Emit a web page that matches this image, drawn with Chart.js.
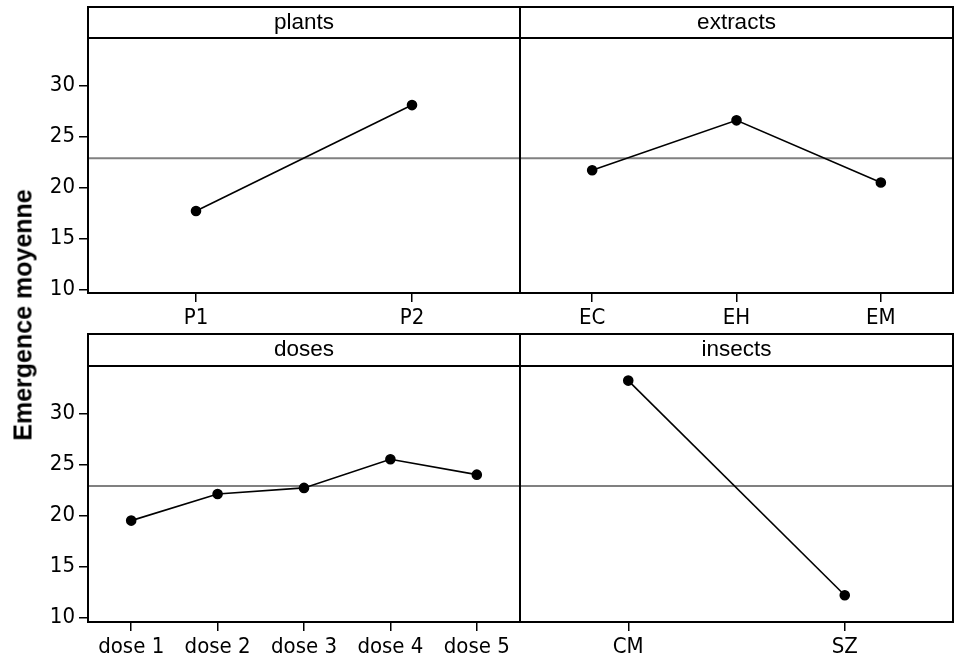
<!DOCTYPE html>
<html>
<head>
<meta charset="utf-8">
<script src="https://cdn.jsdelivr.net/npm/chart.js@4"></script>
<style>
    body { margin: 0; background: #fff; }
    #wrap { position: relative; width: 960px; height: 663px; overflow: hidden; }
    canvas { position: absolute; }
    #ytitle {
        position: absolute; left: 23px; top: 315px;
        transform: translate(-50%, -50%) rotate(-90deg);
        font: bold 25px "Liberation Sans", Arial, sans-serif;
        white-space: nowrap; color: #000;
    }
</style>
</head>
<body>
<div id="wrap">
    <canvas id="plants" width="530" height="331" style="left:0;top:0"></canvas>
    <canvas id="extracts" width="450" height="331" style="left:510px;top:0"></canvas>
    <canvas id="doses" width="530" height="332" style="left:0;top:331px"></canvas>
    <canvas id="insects" width="450" height="332" style="left:510px;top:331px"></canvas>
    <div id="ytitle">Emergence moyenne</div>
</div>
<script>
// Means
const plantLabels = ["P1", "P2"];
const plantMeans = [17.7, 28.1];

const extractLabels = ["EC", "EH", "EM"];
const extractMeans = [21.7, 26.6, 20.5];

const doseLabels = ["dose 1", "dose 2", "dose 3", "dose 4", "dose 5"];
const doseMeans = [19.5, 22.1, 22.7, 25.5, 24.0];

const insectLabels = ["CM", "SZ"];
const insectMeans = [33.2, 12.2];

const yTicks = [10, 15, 20, 25, 30];
const grandMean = 22.88;

const TICK_FONT = { family: "'DejaVu Sans Condensed', 'DejaVu Sans', sans-serif", size: 22 };
const STRIP_FONT = "22.5px 'Liberation Sans', Arial, sans-serif";

// frame, strip with the factor name, and grand mean line
const panelPlugin = {
    id: "panel",
    beforeDatasetsDraw(chart, args, opts) {
        const a = chart.chartArea;
        const ctx = chart.ctx;
        const y = chart.scales.y.getPixelForValue(grandMean);
        ctx.save();
        ctx.strokeStyle = "#808080";
        ctx.lineWidth = 2;
        ctx.beginPath();
        ctx.moveTo(a.left, y);
        ctx.lineTo(a.right, y);
        ctx.stroke();
        ctx.restore();
    },
    afterDraw(chart, args, opts) {
        const a = chart.chartArea;
        const ctx = chart.ctx;
        ctx.save();
        ctx.strokeStyle = "#000";
        ctx.lineWidth = 2;
        ctx.strokeRect(a.left, opts.stripTop, a.right - a.left, a.bottom - opts.stripTop);
        ctx.beginPath();
        ctx.moveTo(a.left, a.top);
        ctx.lineTo(a.right, a.top);
        ctx.stroke();
        ctx.fillStyle = "#000";
        ctx.font = STRIP_FONT;
        ctx.textAlign = "center";
        ctx.textBaseline = "middle";
        ctx.fillText(opts.title, (a.left + a.right) / 2, (opts.stripTop + a.top) / 2);
        ctx.restore();
    }
};

function makePanel(id, title, labels, values, p) {
    new Chart(document.getElementById(id), {
        type: "line",
        data: {
            labels: labels,
            datasets: [{
                data: values,
                borderColor: "#000",
                borderWidth: 1.6,
                pointBackgroundColor: "#000",
                pointBorderColor: "#000",
                pointRadius: 4.5,
                fill: false,
                tension: 0
            }]
        },
        options: {
            responsive: false,
            animation: false,
            layout: { padding: { top: p.top, left: p.left, right: p.right, bottom: 0 } },
            plugins: {
                legend: { display: false },
                tooltip: { enabled: false },
                panel: { title: title, stripTop: p.stripTop }
            },
            scales: {
                x: {
                    type: "category",
                    offset: true,
                    border: { display: false },
                    grid: { drawOnChartArea: false, tickLength: 9, color: "#000", lineWidth: 1.5 },
                    ticks: { color: "#000", font: TICK_FONT, padding: 3, maxRotation: 0, autoSkip: false },
                    afterFit(s) { s.height = p.xHeight; }
                },
                y: {
                    display: p.showY,
                    min: p.min,
                    max: p.max,
                    border: { display: false },
                    grid: { drawOnChartArea: false, tickLength: 9, color: "#000", lineWidth: 1.5 },
                    ticks: { color: "#000", font: TICK_FONT, padding: 4 },
                    afterBuildTicks(s) { s.ticks = yTicks.map(v => ({ value: v })); },
                    afterFit(s) { s.width = p.showY ? 88 : 0; }
                }
            }
        },
        plugins: [panelPlugin]
    });
}

const topRow = { top: 38, stripTop: 7, xHeight: 38, min: 9.64, max: 34.69 };
const bottomRow = { top: 35, stripTop: 3, xHeight: 41, min: 9.58, max: 34.63 };

makePanel("plants", "plants", plantLabels, plantMeans,
    Object.assign({ left: 0, right: 10, showY: true }, topRow));
makePanel("extracts", "extracts", extractLabels, extractMeans,
    Object.assign({ left: 10, right: 7, showY: false }, topRow));
makePanel("doses", "doses", doseLabels, doseMeans,
    Object.assign({ left: 0, right: 10, showY: true }, bottomRow));
makePanel("insects", "insects", insectLabels, insectMeans,
    Object.assign({ left: 10, right: 7, showY: false }, bottomRow));
</script>
</body>
</html>
